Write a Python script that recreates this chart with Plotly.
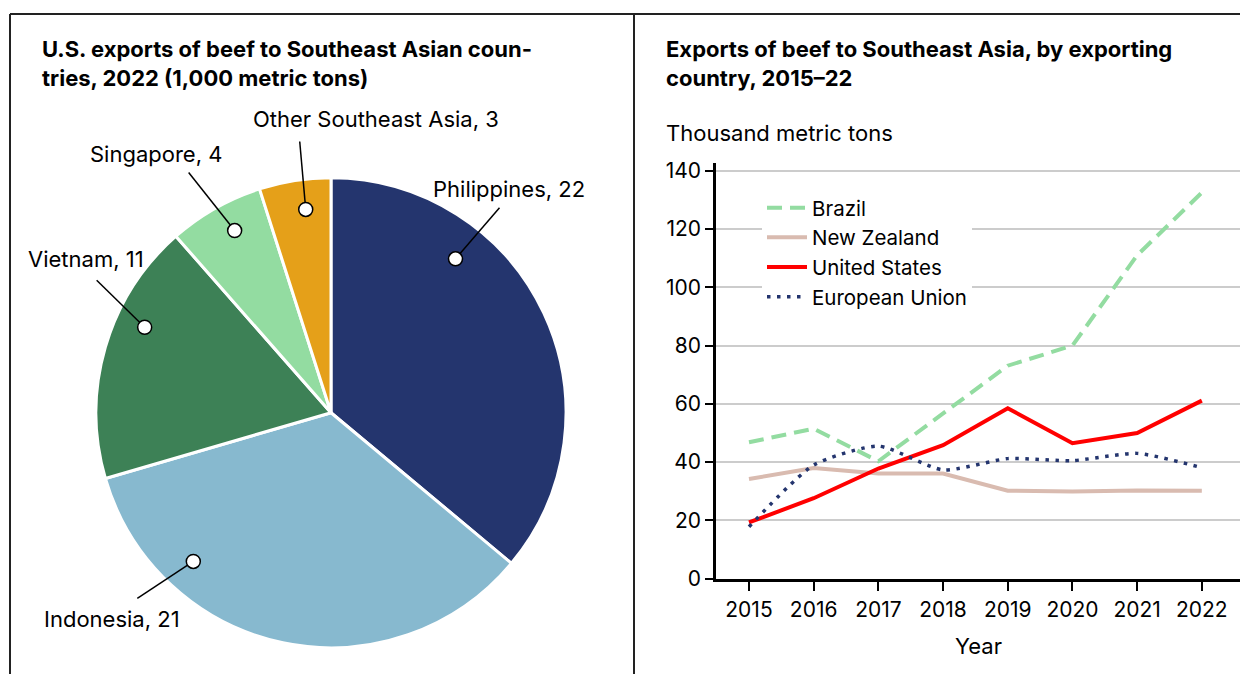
import math
import plotly.graph_objects as go

# ---------------- data ----------------
pie_countries = ["Philippines", "Indonesia", "Vietnam", "Singapore", "Other Southeast Asia"]
pie_values = [22, 21, 11, 4, 3]
pie_colors = ["#24356E", "#87B9CF", "#3D8156", "#93DCA1", "#E5A019"]

years = [2015, 2016, 2017, 2018, 2019, 2020, 2021, 2022]
brazil = [46.8, 51.5, 40.3, 56.5, 73.1, 80.0, 111.0, 132.5]
new_zealand = [34.2, 38.0, 36.1, 36.1, 30.2, 29.9, 30.3, 30.2]
united_states = [19.3, 27.6, 37.8, 45.8, 58.5, 46.5, 50.0, 61.1]
european_union = [17.8, 39.0, 45.5, 37.3, 41.2, 40.5, 43.0, 38.1]
y_ticks = [0, 20, 40, 60, 80, 100, 120, 140]

# ---------------- canvas geometry ----------------
# figure sits inside the default 8px body margin
MARGIN = 8
FIG_W, FIG_H = 1240, 678
VS = 694 / 677
Y_SHIFT = 4.2
FONT = "Inter"

def px(x):
    return (x - MARGIN) / FIG_W

def py(y):
    return 1 - ((y - Y_SHIFT) * VS - MARGIN) / FIG_H

fig = go.Figure()

# ---------------- pie ----------------
cx, cy, R = 331, 412, 235
fig.add_trace(go.Pie(
    labels=pie_countries, values=pie_values, sort=False, direction="clockwise",
    rotation=0, textinfo="none", hoverinfo="label+value",
    marker=dict(colors=pie_colors, line=dict(color="white", width=3)),
    domain=dict(x=[px(cx - R), px(cx + R)], y=[py(cy + R + 20), py(cy - R - 20)]),
    showlegend=False,
))

# label layout: (fraction within slice, radius fraction, leader end offset dx, dy, text x, text y)
label_layout = {
    "Philippines": (0.30, 0.85, 44, -51, 431, 188),
    "Indonesia": (0.75, 0.87, -56, 37, 42, 618),
    "Vietnam": (0.63, 0.88, -48, -47, 26, 258),
    "Singapore": (0.57, 0.885, -46, -58, 88, 153),
    "Other Southeast Asia": (0.60, 0.88, -6, -68, 251, 118),
}

shapes = []
annotations = []
total = sum(pie_values)
cum = 0
for name, val in zip(pie_countries, pie_values):
    frac, rf, dx, dy, tx, ty = label_layout[name]
    ang = (cum + frac * val) / total * 2 * math.pi
    cum += val
    dot_x = cx + math.sin(ang) * 233 * rf
    dot_y = cy - math.cos(ang) * 233 * rf
    shapes.append(dict(type="line", xref="paper", yref="paper",
                       x0=px(dot_x), y0=py(dot_y), x1=px(dot_x + dx), y1=py(dot_y + dy),
                       line=dict(color="black", width=1.5), layer="above"))
    shapes.append(dict(type="circle", xref="paper", yref="paper",
                       x0=px(dot_x - 7), x1=px(dot_x + 7), y0=py(dot_y + 7), y1=py(dot_y - 7),
                       fillcolor="white", line=dict(color="black", width=1.5), layer="above"))
    annotations.append(dict(text=f"{name}, {val}", xref="paper", yref="paper",
                            x=px(tx), y=py(ty), xanchor="left", yanchor="middle",
                            showarrow=False, font=dict(family=FONT, size=22, color="black")))

# ---------------- line chart ----------------
fig.add_trace(go.Scatter(x=years, y=brazil, name="Brazil", mode="lines",
                         line=dict(color="#93DCA1", width=4, dash="15px,8px")))
fig.add_trace(go.Scatter(x=years, y=new_zealand, name="New Zealand", mode="lines",
                         line=dict(color="#D9BBB0", width=4)))
fig.add_trace(go.Scatter(x=years, y=united_states, name="United States", mode="lines",
                         line=dict(color="#FF0000", width=4)))
fig.add_trace(go.Scatter(x=years, y=european_union, name="European Union", mode="lines",
                         line=dict(color="#24356E", width=3.5, dash="3.5px,6.5px",
                                   shape="spline", smoothing=0.6)))

# panel frame
frame = dict(color="#222222", width=2)
shapes += [
    dict(type="line", xref="paper", yref="paper", x0=px(10), x1=1, y0=py(13), y1=py(13), line=frame),
    dict(type="line", xref="paper", yref="paper", x0=px(10), x1=px(10), y0=py(13), y1=0, line=frame),
    dict(type="line", xref="paper", yref="paper", x0=px(634), x1=px(634), y0=py(13), y1=0, line=frame),
]

annotations += [
    dict(text="<b>U.S. exports of beef to Southeast Asian coun-<br>tries, 2022 (1,000 metric tons)</b>",
         xref="paper", yref="paper", x=px(40), y=py(63), xanchor="left", yanchor="middle",
         align="left", showarrow=False, font=dict(family=FONT, size=22, color="black")),
    dict(text="<b>Exports of beef to Southeast Asia, by exporting<br>country, 2015–22</b>",
         xref="paper", yref="paper", x=px(664), y=py(63), xanchor="left", yanchor="middle",
         align="left", showarrow=False, font=dict(family=FONT, size=22, color="black")),
    dict(text="Thousand metric tons", xref="paper", yref="paper", x=px(664), y=py(132),
         xanchor="left", yanchor="middle", showarrow=False,
         font=dict(family=FONT, size=22, color="black")),
    dict(text="Year", xref="paper", yref="paper", x=px(978), y=py(645),
         xanchor="center", yanchor="middle", showarrow=False,
         font=dict(family=FONT, size=22, color="black")),
]

fig.update_layout(
    width=FIG_W, height=FIG_H, margin=dict(l=0, r=0, t=0, b=0, pad=0),
    paper_bgcolor="white", plot_bgcolor="white",
    font=dict(family=FONT, size=21, color="black"),
    shapes=shapes, annotations=annotations,
    xaxis=dict(domain=[px(716), px(1240)], range=[2014.49, 2022.59],
               tickvals=years, ticks="outside", ticklen=10, tickwidth=1.5, tickcolor="black",
               showline=True, linecolor="black", linewidth=2.5, showgrid=False, zeroline=False,
               tickfont=dict(size=21)),
    yaxis=dict(domain=[py(578), py(162)], range=[0, 142.7], tickvals=y_ticks,
               ticks="outside", ticklen=8, tickwidth=1.5, tickcolor="black",
               showline=True, linecolor="black", linewidth=2.5,
               showgrid=True, gridcolor="#CCCCCC", gridwidth=1.5, zeroline=False,
               tickfont=dict(size=21)),
    legend=dict(x=px(762), y=py(187), xanchor="left", yanchor="top",
                bgcolor="white", font=dict(size=20.5), itemwidth=40,
                tracegroupgap=0),
)

fig.write_html("out.html", config={"displayModeBar": False})
